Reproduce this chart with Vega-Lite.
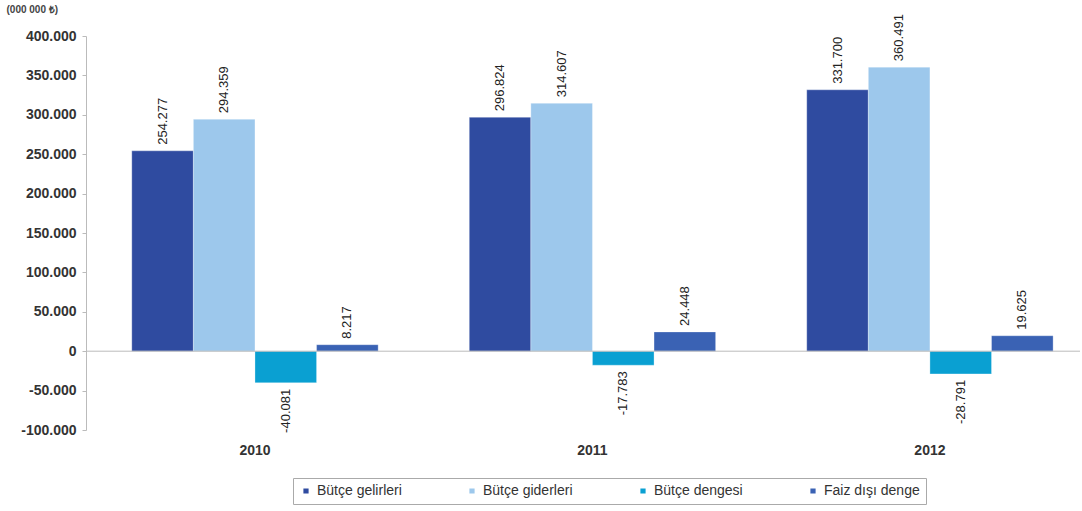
{
  "$schema": "https://vega.github.io/schema/vega-lite/v6.json",
  "autosize": "none",
  "width": 994,
  "height": 394,
  "padding": {"left": 86, "top": 36, "right": 2, "bottom": 81},
  "background": "white",
  "config": {
    "locale": {"number": {"decimal": ",", "thousands": ".", "grouping": [3], "currency": ["", ""], "minus": "-"}},
    "font": "Liberation Sans",
    "view": {"stroke": null}
  },
  "data": {
    "values": [
      {"yil": "2010", "seri": "Bütçe gelirleri", "deger": 254277},
      {"yil": "2010", "seri": "Bütçe giderleri", "deger": 294359},
      {"yil": "2010", "seri": "Bütçe dengesi", "deger": -40081},
      {"yil": "2010", "seri": "Faiz dışı denge", "deger": 8217},
      {"yil": "2011", "seri": "Bütçe gelirleri", "deger": 296824},
      {"yil": "2011", "seri": "Bütçe giderleri", "deger": 314607},
      {"yil": "2011", "seri": "Bütçe dengesi", "deger": -17783},
      {"yil": "2011", "seri": "Faiz dışı denge", "deger": 24448},
      {"yil": "2012", "seri": "Bütçe gelirleri", "deger": 331700},
      {"yil": "2012", "seri": "Bütçe giderleri", "deger": 360491},
      {"yil": "2012", "seri": "Bütçe dengesi", "deger": -28791},
      {"yil": "2012", "seri": "Faiz dışı denge", "deger": 19625}
    ]
  },
  "encoding": {
    "x": {
      "field": "yil", "type": "nominal",
      "scale": {"paddingInner": 0.27, "paddingOuter": 0.1077, "align": 0.63},
      "axis": {"title": null, "labelAngle": 0, "domain": false, "ticks": false, "labelFontSize": 14, "labelFontWeight": "bold", "labelColor": "#333", "labelPadding": 13}
    },
    "xOffset": {"field": "seri", "type": "nominal", "sort": ["Bütçe gelirleri", "Bütçe giderleri", "Bütçe dengesi", "Faiz dışı denge"], "scale": {"paddingInner": 0, "paddingOuter": 0}},
    "y": {
      "field": "deger", "type": "quantitative",
      "scale": {"domain": [-100000, 400000], "nice": false, "zero": false},
      "axis": {
        "values": [-100000, -50000, 0, 50000, 100000, 150000, 200000, 250000, 300000, 350000, 400000],
        "labelExpr": "format(datum.value, ',')", "grid": false, "domainColor": "#bbb", "tickColor": "#bbb", "tickSize": 4,
        "labelFontSize": 14, "labelFontWeight": "bold", "labelColor": "#333", "labelPadding": 6,
        "title": "(000 000 ₺)", "titleAngle": 0, "titleX": -80, "titleY": -22, "titleAlign": "left",
        "titleFontSize": 10, "titleFontWeight": "bold", "titleColor": "#444"
      }
    }
  },
  "layer": [
    {
      "mark": {"type": "bar", "stroke": "white", "strokeWidth": 0.5, "strokeOpacity": 0.6},
      "encoding": {
        "color": {
          "field": "seri", "type": "nominal",
          "sort": ["Bütçe gelirleri", "Bütçe giderleri", "Bütçe dengesi", "Faiz dışı denge"],
          "scale": {"domain": ["Bütçe gelirleri", "Bütçe giderleri", "Bütçe dengesi", "Faiz dışı denge"], "range": ["#2F4BA0", "#9DC8EC", "#0AA0D2", "#3A62B4"]},
          "legend": {
            "title": null, "orient": "none", "direction": "horizontal",
            "legendX": 207, "legendY": 442,
            "symbolType": "square", "symbolSize": 45, "labelFontSize": 14, "labelColor": "#333",
            "columnPadding": 63, "padding": 6, "strokeColor": "#aaa",
            "labelLimit": 200, "labelOffset": 4
          }
        }
      }
    },
    {
      "mark": {"type": "rule", "color": "#bbb", "strokeWidth": 1},
      "data": {"values": [{"z": 0}]},
      "encoding": {"y": {"field": "z", "type": "quantitative"}, "x": null, "xOffset": null}
    },
    {
      "transform": [{"filter": "datum.deger >= 0"}],
      "mark": {"type": "text", "angle": 270, "align": "left", "baseline": "middle", "dx": 6, "fontSize": 13, "color": "#222"},
      "encoding": {"text": {"field": "deger", "type": "quantitative", "format": ","}}
    },
    {
      "transform": [{"filter": "datum.deger < 0"}],
      "mark": {"type": "text", "angle": 270, "align": "right", "baseline": "middle", "dx": -6, "fontSize": 13, "color": "#222"},
      "encoding": {"text": {"field": "deger", "type": "quantitative", "format": ","}}
    }
  ]
}
